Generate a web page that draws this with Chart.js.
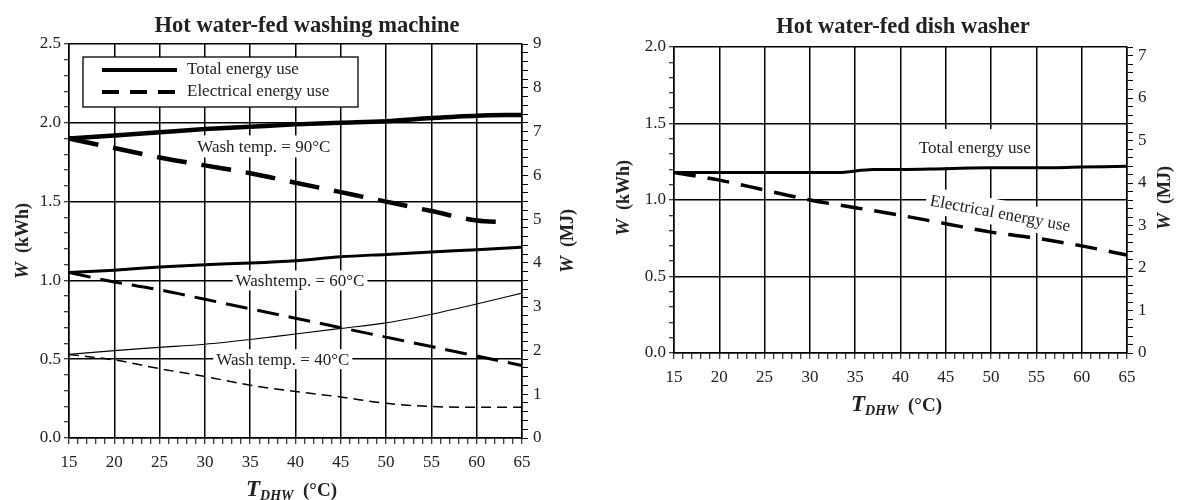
<!DOCTYPE html>
<html>
<head>
<meta charset="utf-8">
<script src="https://cdn.jsdelivr.net/npm/chart.js@4.4.0/dist/chart.umd.min.js"></script>
<style>
  body { margin: 0; background: #fff; }
  #wrap { position: relative; width: 1177px; height: 500px; }
  canvas { position: absolute; top: 0; }
  #washer { left: 0; }
  #dish { left: 590px; }
</style>
</head>
<body>
<div id="wrap">
  <canvas id="washer" width="590" height="500"></canvas>
  <canvas id="dish" width="587" height="500"></canvas>
</div>
<script>
// domestic hot water temperature (°C)
const tdhw = [15, 20, 25, 30, 35, 40, 45, 50, 55, 60, 65];

// washing machine, kWh per cycle
const total90 = [1.90, 1.92, 1.94, 1.96, 1.975, 1.99, 2.00, 2.01, 2.03, 2.045, 2.05];
const elec90T = [15, 20, 25, 30, 35, 40, 45, 50, 55, 60, 63];
const elec90 = [1.90, 1.84, 1.78, 1.73, 1.68, 1.62, 1.56, 1.50, 1.44, 1.38, 1.37];
const total60 = [1.05, 1.065, 1.085, 1.10, 1.11, 1.125, 1.15, 1.165, 1.18, 1.195, 1.21];
const elec60 = [1.05, 0.99, 0.94, 0.88, 0.82, 0.76, 0.70, 0.64, 0.58, 0.52, 0.46];
const total40 = [0.53, 0.555, 0.575, 0.595, 0.625, 0.66, 0.695, 0.73, 0.785, 0.85, 0.92];
const elec40 = [0.53, 0.495, 0.44, 0.39, 0.335, 0.295, 0.26, 0.22, 0.20, 0.195, 0.195];

// dish washer, kWh per cycle
const dishTotalT = [15, 20, 25, 30, 33, 37, 40, 45, 50, 55, 60, 65];
const dishTotal = [1.18, 1.18, 1.18, 1.18, 1.18, 1.20, 1.20, 1.205, 1.21, 1.21, 1.215, 1.22];
const dishElec = [1.18, 1.13, 1.065, 1.00, 0.95, 0.90, 0.845, 0.79, 0.75, 0.70, 0.64];

const SERIF = '"Liberation Serif", "Times New Roman", serif';
const INK = '#222';
const MJ_PER_KWH = 3.6;

function pts(xs, ys) {
  return xs.map((x, i) => ({ x: x, y: ys[i] }));
}

function series(label, xs, ys, width, dash) {
  return {
    label: label,
    data: pts(xs, ys),
    borderColor: '#000',
    borderWidth: width,
    borderDash: dash || [],
    pointRadius: 0,
    fill: false,
    cubicInterpolationMode: 'monotone',
    yAxisID: 'y'
  };
}

const tickFont = { family: SERIF, size: 17 };
const clear = 'rgba(0,0,0,0)';

function buildScales(o) {
  return {
    x: {
      type: 'linear', min: 15, max: 65,
      afterFit: s => { s.height = o.bottom; },
      border: { color: '#000', width: 1.5 },
      grid: {
        color: c => (Math.round(c.tick.value) % 5 === 0 ? '#000' : clear),
        lineWidth: 1.5, tickColor: '#000', tickLength: 6, tickWidth: 1
      },
      ticks: {
        stepSize: 1, autoSkip: false, maxRotation: 0, padding: 8,
        color: INK, font: tickFont,
        callback: v => (Math.round(v) % 5 === 0 ? v : '')
      }
    },
    y: {
      position: 'left', min: 0, max: o.kwhMax,
      afterFit: s => { s.width = o.left; },
      border: { color: '#000', width: 1.5 },
      grid: {
        color: c => (Math.round(c.tick.value * 10) % 5 === 0 ? '#000' : clear),
        lineWidth: 1.5, tickColor: '#000', tickLength: 5, tickWidth: 1
      },
      ticks: {
        stepSize: 0.1, autoSkip: false, padding: 3,
        color: INK, font: tickFont,
        callback: v => (Math.round(v * 10) % 5 === 0 ? v.toFixed(1) : '')
      }
    },
    mj: {
      position: 'right', min: 0, max: o.kwhMax * MJ_PER_KWH,
      afterFit: s => { s.width = o.right; },
      border: { color: '#000', width: 1.5 },
      grid: { drawOnChartArea: false, tickColor: '#000', tickLength: 6, tickWidth: 1 },
      ticks: {
        stepSize: 0.2, autoSkip: false, padding: 5,
        color: INK, font: tickFont,
        callback: v => (Math.abs(v - Math.round(v)) < 1e-6 ? Math.round(v) : '')
      }
    }
  };
}

// mixed-font text run, centred on (cx, cy) along its own baseline
function drawRun(ctx, parts, cx, cy, angle) {
  ctx.save();
  ctx.translate(cx, cy);
  ctx.rotate(angle || 0);
  let total = 0;
  parts.forEach(p => { ctx.font = p.font; total += ctx.measureText(p.text).width; });
  let x = -total / 2;
  ctx.fillStyle = INK;
  ctx.textBaseline = 'alphabetic';
  parts.forEach(p => {
    ctx.font = p.font;
    ctx.fillText(p.text, x, p.dy || 0);
    x += ctx.measureText(p.text).width;
  });
  ctx.restore();
}

const decor = {
  id: 'decor',
  beforeDatasetsDraw(chart, args, o) {
    const { ctx, scales } = chart;
    (o.notes || []).forEach(n => {
      const px = scales.x.getPixelForValue(n.x);
      const py = scales.y.getPixelForValue(n.y);
      ctx.save();
      ctx.font = '17px ' + SERIF;
      const w = ctx.measureText(n.text).width;
      ctx.translate(px, py);
      ctx.rotate((n.angle || 0) * Math.PI / 180);
      ctx.fillStyle = '#fff';
      ctx.fillRect(-w / 2 - n.padX, -n.padY, w + 2 * n.padX, 2 * n.padY);
      ctx.fillStyle = INK;
      ctx.textAlign = 'center';
      ctx.textBaseline = 'middle';
      ctx.fillText(n.text, 0, 1);
      ctx.restore();
    });
  },
  afterDraw(chart, args, o) {
    const { ctx, chartArea: a } = chart;
    const midY = (a.top + a.bottom) / 2;

    // title
    ctx.save();
    ctx.font = 'bold 22.5px ' + SERIF;
    ctx.fillStyle = INK;
    ctx.textAlign = 'center';
    ctx.textBaseline = 'middle';
    ctx.fillText(o.title, o.titleX, o.titleY);
    ctx.restore();

    // axis titles
    const up = -Math.PI / 2;
    drawRun(ctx, [
      { text: 'W', font: 'italic bold 19px ' + SERIF },
      { text: '  (kWh)', font: 'bold 18px ' + SERIF }
    ], o.kwhTitleX, midY + o.yTitleShift, up);
    drawRun(ctx, [
      { text: 'W', font: 'italic bold 19px ' + SERIF },
      { text: '  (MJ)', font: 'bold 18px ' + SERIF }
    ], o.mjTitleX, midY + o.yTitleShift, up);
    drawRun(ctx, [
      { text: 'T', font: 'italic bold 23px ' + SERIF },
      { text: 'DHW', font: 'italic bold 14px ' + SERIF, dy: 4 },
      { text: '  (°C)', font: 'bold 19px ' + SERIF }
    ], (a.left + a.right) / 2 - 4, a.bottom + 58, 0);

    // legend box
    if (o.legend) {
      const bx = a.left + 14, by = a.top + 13, bw = 275, bh = 50;
      ctx.save();
      ctx.fillStyle = '#fff';
      ctx.fillRect(bx, by, bw, bh);
      ctx.strokeStyle = '#000';
      ctx.lineWidth = 1.3;
      ctx.strokeRect(bx, by, bw, bh);
      ctx.lineWidth = 4;
      [[], [17, 11]].forEach((dash, i) => {
        const ly = by + 13 + i * 22;
        ctx.setLineDash(dash);
        ctx.beginPath();
        ctx.moveTo(bx + 19, ly);
        ctx.lineTo(bx + 94, ly);
        ctx.stroke();
      });
      ctx.setLineDash([]);
      ctx.font = '17px ' + SERIF;
      ctx.fillStyle = INK;
      ctx.textBaseline = 'middle';
      ctx.fillText('Total energy use', bx + 104, by + 13);
      ctx.fillText('Electrical energy use', bx + 104, by + 35);
      ctx.restore();
    }
  }
};

function baseOptions(o) {
  return {
    responsive: false,
    animation: false,
    layout: { padding: { top: o.top, left: 0, right: 0, bottom: 0 } },
    scales: buildScales(o),
    plugins: {
      legend: { display: false },
      tooltip: { enabled: false },
      decor: o.decor
    }
  };
}

new Chart(document.getElementById('washer'), {
  type: 'line',
  data: {
    datasets: [
      series('Total, 90°C', tdhw, total90, 4.5),
      series('Electrical, 90°C', elec90T, elec90, 4.5, [30, 15]),
      series('Total, 60°C', tdhw, total60, 3),
      series('Electrical, 60°C', tdhw, elec60, 3, [22, 10]),
      series('Total, 40°C', tdhw, total40, 1.2),
      series('Electrical, 40°C', tdhw, elec40, 1.5, [10, 6])
    ]
  },
  options: baseOptions({
    top: 44, bottom: 62, left: 69, right: 68, kwhMax: 2.5,
    decor: {
      title: 'Hot water-fed washing machine', titleX: 307, titleY: 26,
      kwhTitleX: 28, mjTitleX: 573, yTitleShift: 0,
      legend: true,
      notes: [
        { text: 'Wash temp. = 90°C', x: 36.5, y: 1.85, padX: 3, padY: 11 },
        { text: 'Washtemp. = 60°C', x: 40.5, y: 1.0, padX: 3, padY: 10 },
        { text: 'Wash temp. = 40°C', x: 38.6, y: 0.5, padX: 3, padY: 10 }
      ]
    }
  }),
  plugins: [decor]
});

new Chart(document.getElementById('dish'), {
  type: 'line',
  data: {
    datasets: [
      series('Total energy use', dishTotalT, dishTotal, 3),
      series('Electrical energy use', tdhw, dishElec, 3.5, [22, 12])
    ]
  },
  options: baseOptions({
    top: 47, bottom: 147, left: 84, right: 50, kwhMax: 2.0,
    decor: {
      title: 'Hot water-fed dish washer', titleX: 313, titleY: 27,
      kwhTitleX: 39, mjTitleX: 580, yTitleShift: -2,
      legend: false,
      notes: [
        { text: 'Total energy use', x: 48.2, y: 1.34, padX: 4, padY: 19 },
        { text: 'Electrical energy use', x: 51, y: 0.915, angle: 10.5, padX: 4, padY: 13 }
      ]
    }
  }),
  plugins: [decor]
});
</script>
</body>
</html>
